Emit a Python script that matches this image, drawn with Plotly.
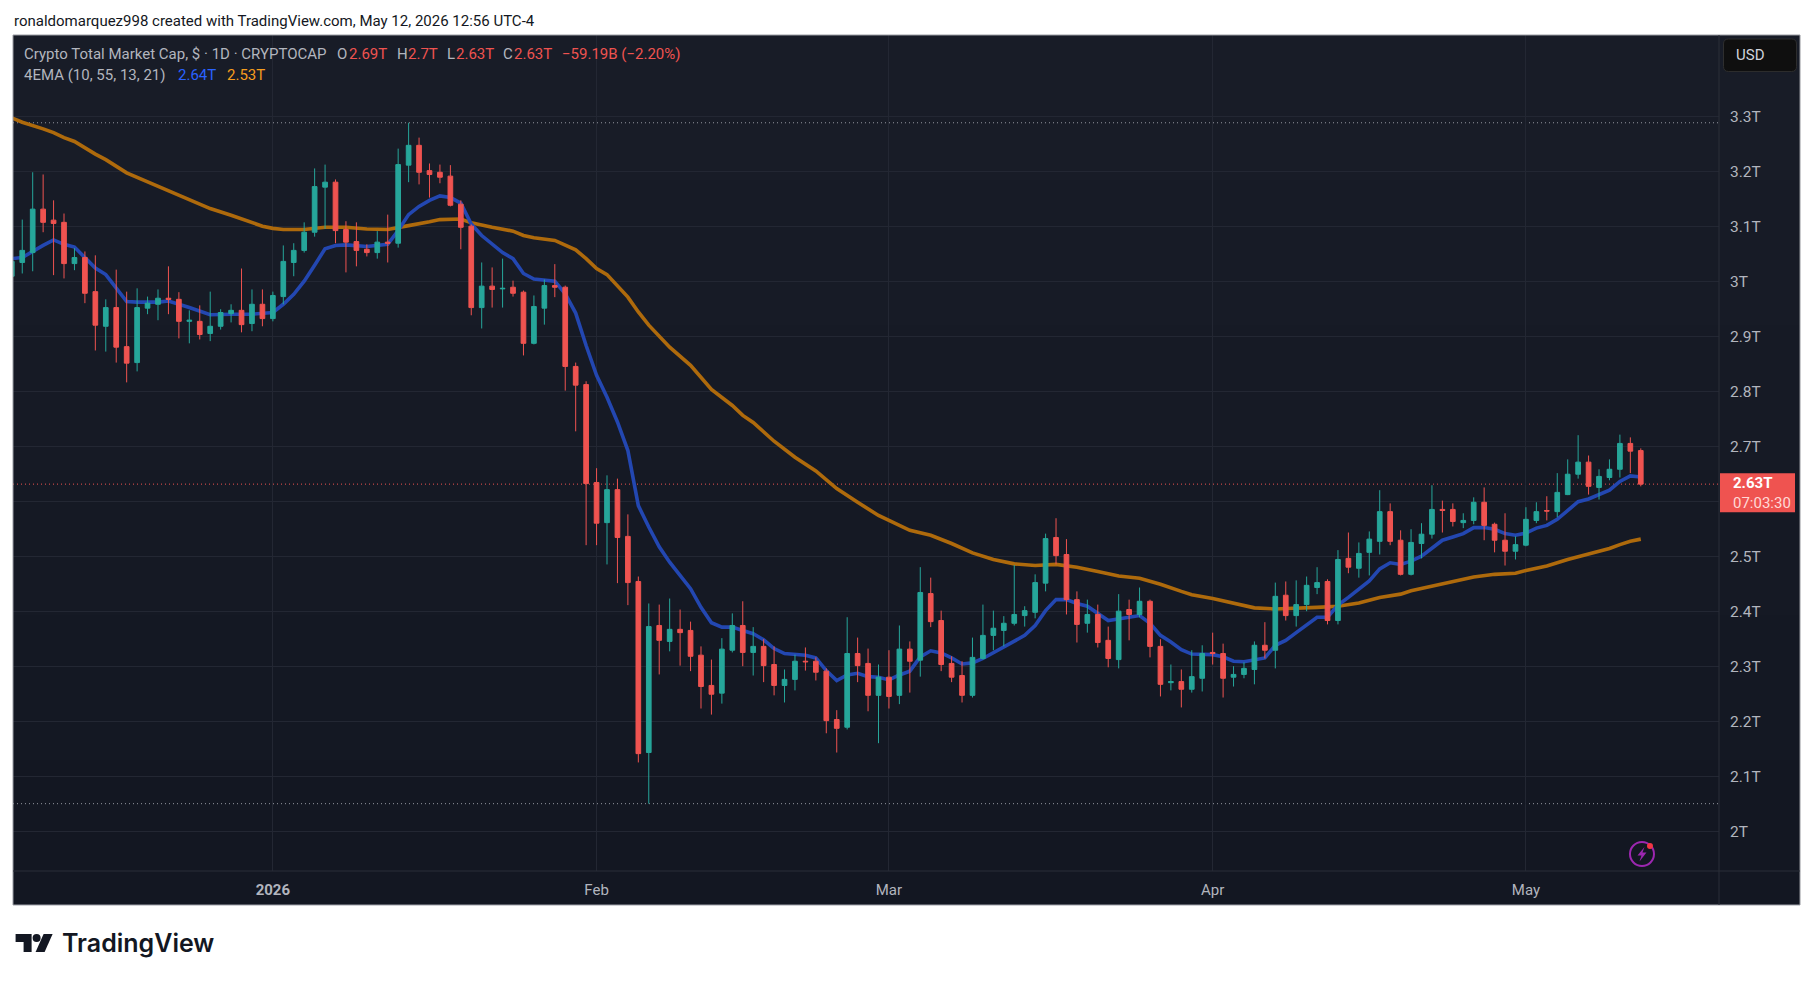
import pandas as pd
import plotly.graph_objects as go

# daily candles in trillions, one row per month: Dec 7 2025 .. May 12 2026
opens = [
    3.010, 3.035, 3.053, 3.132, 3.112, 3.108, 3.033, 3.044, 2.982, 2.919, 2.953, 2.882, 2.853, 2.952, 2.959, 2.970, 2.968, 2.928, 2.928, 2.906, 2.919, 2.942, 2.948, 2.924, 2.959,
    2.933, 2.973, 3.035, 3.057, 3.090, 3.172, 3.181, 3.095, 3.073, 3.059, 3.053, 3.072, 3.070, 3.212, 3.248, 3.202, 3.199, 3.192, 3.141, 3.101, 2.953, 2.992, 2.987, 2.990, 2.981, 2.888, 2.952, 2.993, 2.990, 2.846, 2.813,
    2.635, 2.562, 2.622, 2.537, 2.455, 2.144, 2.375, 2.346, 2.368, 2.366, 2.321, 2.266, 2.252, 2.330, 2.375, 2.326, 2.337, 2.304, 2.266, 2.277, 2.310, 2.310, 2.292, 2.204, 2.190, 2.324, 2.306, 2.248,
    2.281, 2.248, 2.332, 2.312, 2.433, 2.384, 2.306, 2.284, 2.248, 2.315, 2.357, 2.366, 2.379, 2.393, 2.399, 2.452, 2.535, 2.504, 2.422, 2.379, 2.395, 2.348, 2.313, 2.404, 2.395, 2.419, 2.337, 2.271, 2.273, 2.259, 2.279,
    2.326, 2.324, 2.281, 2.286, 2.295, 2.339, 2.330, 2.430, 2.393, 2.413, 2.444, 2.455, 2.384, 2.497, 2.479, 2.508, 2.528, 2.582, 2.530, 2.468, 2.524, 2.541, 2.586, 2.586, 2.562, 2.566, 2.599, 2.559, 2.530, 2.510,
    2.521, 2.566, 2.584, 2.582, 2.613, 2.650, 2.672, 2.626, 2.644, 2.659, 2.706, 2.693,
]
highs = [
    3.042, 3.113, 3.199, 3.195, 3.148, 3.124, 3.061, 3.055, 3.048, 2.968, 3.022, 2.982, 2.988, 2.973, 2.986, 3.028, 2.981, 2.948, 2.957, 2.982, 2.950, 2.959, 3.024, 2.986, 2.986,
    2.982, 3.066, 3.070, 3.108, 3.206, 3.213, 3.186, 3.110, 3.108, 3.068, 3.092, 3.122, 3.242, 3.289, 3.262, 3.215, 3.213, 3.212, 3.148, 3.104, 3.035, 3.026, 3.042, 3.002, 2.984, 2.975, 3.004, 3.032, 2.993, 2.853, 2.819,
    2.661, 2.648, 2.642, 2.577, 2.464, 2.415, 2.413, 2.424, 2.404, 2.382, 2.337, 2.313, 2.352, 2.397, 2.419, 2.372, 2.350, 2.337, 2.295, 2.322, 2.335, 2.317, 2.297, 2.221, 2.390, 2.353, 2.333, 2.304,
    2.330, 2.375, 2.346, 2.481, 2.462, 2.402, 2.319, 2.310, 2.353, 2.413, 2.402, 2.392, 2.485, 2.410, 2.468, 2.542, 2.570, 2.532, 2.437, 2.422, 2.413, 2.373, 2.432, 2.422, 2.444, 2.422, 2.350, 2.304, 2.295, 2.330, 2.339,
    2.362, 2.342, 2.301, 2.308, 2.346, 2.381, 2.453, 2.455, 2.457, 2.464, 2.481, 2.459, 2.512, 2.544, 2.526, 2.546, 2.621, 2.597, 2.548, 2.550, 2.561, 2.630, 2.602, 2.597, 2.579, 2.608, 2.626, 2.562, 2.579, 2.537,
    2.590, 2.599, 2.610, 2.652, 2.677, 2.721, 2.684, 2.659, 2.677, 2.722, 2.717, 2.697,
]
lows = [
    3.005, 3.015, 3.019, 3.090, 3.012, 3.006, 3.021, 2.961, 2.875, 2.873, 2.853, 2.817, 2.837, 2.941, 2.930, 2.941, 2.897, 2.888, 2.895, 2.892, 2.913, 2.926, 2.908, 2.910, 2.919,
    2.928, 2.959, 3.010, 3.053, 3.082, 3.096, 3.070, 3.017, 3.028, 3.046, 3.042, 3.035, 3.062, 3.181, 3.177, 3.153, 3.179, 3.137, 3.059, 2.939, 2.915, 2.953, 2.953, 2.973, 2.866, 2.886, 2.922, 2.972, 2.802, 2.728, 2.521,
    2.521, 2.486, 2.452, 2.412, 2.126, 2.051, 2.286, 2.328, 2.302, 2.292, 2.224, 2.213, 2.233, 2.326, 2.301, 2.284, 2.272, 2.248, 2.235, 2.257, 2.293, 2.275, 2.179, 2.144, 2.186, 2.272, 2.219, 2.161,
    2.224, 2.232, 2.253, 2.282, 2.372, 2.292, 2.272, 2.235, 2.244, 2.313, 2.330, 2.337, 2.375, 2.373, 2.388, 2.437, 2.486, 2.395, 2.344, 2.362, 2.335, 2.299, 2.297, 2.348, 2.390, 2.317, 2.246, 2.257, 2.226, 2.253, 2.255,
    2.304, 2.244, 2.264, 2.279, 2.268, 2.315, 2.297, 2.384, 2.373, 2.401, 2.432, 2.377, 2.377, 2.470, 2.462, 2.466, 2.504, 2.521, 2.466, 2.466, 2.497, 2.533, 2.544, 2.555, 2.552, 2.559, 2.530, 2.508, 2.484, 2.495,
    2.519, 2.561, 2.566, 2.572, 2.612, 2.642, 2.613, 2.604, 2.639, 2.644, 2.652, 2.628,
]
closes = [
    3.037, 3.057, 3.132, 3.108, 3.106, 3.033, 3.044, 2.979, 2.921, 2.953, 2.881, 2.852, 2.953, 2.961, 2.970, 2.968, 2.928, 2.930, 2.904, 2.919, 2.944, 2.948, 2.922, 2.959, 2.933,
    2.975, 3.037, 3.057, 3.090, 3.173, 3.181, 3.093, 3.072, 3.057, 3.053, 3.072, 3.070, 3.213, 3.248, 3.199, 3.195, 3.190, 3.139, 3.099, 2.953, 2.992, 2.986, 2.988, 2.979, 2.888, 2.955, 2.993, 2.990, 2.846, 2.812, 2.633,
    2.561, 2.622, 2.535, 2.453, 2.142, 2.373, 2.348, 2.368, 2.362, 2.319, 2.264, 2.250, 2.332, 2.375, 2.326, 2.337, 2.302, 2.266, 2.277, 2.310, 2.309, 2.290, 2.202, 2.188, 2.324, 2.302, 2.248, 2.281,
    2.246, 2.332, 2.310, 2.435, 2.382, 2.304, 2.281, 2.248, 2.317, 2.357, 2.370, 2.379, 2.395, 2.402, 2.453, 2.533, 2.502, 2.422, 2.377, 2.395, 2.344, 2.315, 2.401, 2.395, 2.419, 2.337, 2.268, 2.273, 2.259, 2.282, 2.324,
    2.324, 2.279, 2.286, 2.297, 2.339, 2.330, 2.428, 2.393, 2.413, 2.448, 2.453, 2.384, 2.495, 2.481, 2.506, 2.532, 2.582, 2.528, 2.468, 2.526, 2.541, 2.586, 2.584, 2.564, 2.566, 2.599, 2.557, 2.530, 2.510, 2.522,
    2.568, 2.582, 2.583, 2.617, 2.650, 2.672, 2.628, 2.646, 2.659, 2.706, 2.692, 2.632,
]
candle_dates = pd.date_range("2025-12-07", periods=len(opens), freq="D")

# blue EMA
fast_dates = [
    "2025-12-07", "2025-12-08", "2025-12-10", "2025-12-11", "2025-12-12", "2025-12-13", "2025-12-15", "2025-12-16", "2025-12-18", "2025-12-19", "2025-12-21", "2025-12-22", "2025-12-24", "2025-12-26", "2025-12-28", "2025-12-30",
    "2026-01-01", "2026-01-02", "2026-01-03", "2026-01-04", "2026-01-05", "2026-01-06", "2026-01-07", "2026-01-08", "2026-01-10", "2026-01-12", "2026-01-13", "2026-01-14", "2026-01-15", "2026-01-16", "2026-01-17", "2026-01-18", "2026-01-19", "2026-01-20", "2026-01-21", "2026-01-23", "2026-01-24", "2026-01-25", "2026-01-26", "2026-01-28", "2026-01-29", "2026-01-30", "2026-01-31",
    "2026-02-01", "2026-02-02", "2026-02-03", "2026-02-04", "2026-02-05", "2026-02-06", "2026-02-07", "2026-02-08", "2026-02-10", "2026-02-11", "2026-02-12", "2026-02-13", "2026-02-14", "2026-02-15", "2026-02-16", "2026-02-17", "2026-02-18", "2026-02-19", "2026-02-21", "2026-02-22", "2026-02-23", "2026-02-24", "2026-02-25", "2026-02-26", "2026-02-27", "2026-02-28",
    "2026-03-01", "2026-03-02", "2026-03-03", "2026-03-04", "2026-03-05", "2026-03-06", "2026-03-07", "2026-03-08", "2026-03-09", "2026-03-10", "2026-03-13", "2026-03-14", "2026-03-15", "2026-03-16", "2026-03-17", "2026-03-18", "2026-03-19", "2026-03-20", "2026-03-22", "2026-03-23", "2026-03-25", "2026-03-26", "2026-03-27", "2026-03-28", "2026-03-29", "2026-03-30", "2026-03-31",
    "2026-04-01", "2026-04-02", "2026-04-03", "2026-04-04", "2026-04-05", "2026-04-06", "2026-04-07", "2026-04-08", "2026-04-09", "2026-04-10", "2026-04-11", "2026-04-12", "2026-04-13", "2026-04-14", "2026-04-15", "2026-04-16", "2026-04-17", "2026-04-18", "2026-04-19", "2026-04-20", "2026-04-21", "2026-04-22", "2026-04-23", "2026-04-24", "2026-04-25", "2026-04-26", "2026-04-27", "2026-04-28", "2026-04-29", "2026-04-30",
    "2026-05-01", "2026-05-02", "2026-05-03", "2026-05-04", "2026-05-05", "2026-05-06", "2026-05-07", "2026-05-08", "2026-05-09", "2026-05-10", "2026-05-11", "2026-05-12",
]
fast_values = [
    3.042, 3.044, 3.066, 3.076, 3.068, 3.063, 3.025, 3.013, 2.964, 2.963, 2.963, 2.965, 2.953, 2.940, 2.941, 2.941,
    2.944, 2.959, 2.977, 3.001, 3.030, 3.060, 3.066, 3.067, 3.064, 3.068, 3.093, 3.122, 3.137, 3.148, 3.156, 3.153, 3.143, 3.105, 3.084, 3.053, 3.042, 3.015, 3.005, 3.001, 2.978, 2.943, 2.884,
    2.830, 2.790, 2.745, 2.693, 2.593, 2.554, 2.518, 2.490, 2.442, 2.408, 2.380, 2.372, 2.372, 2.366, 2.360, 2.349, 2.333, 2.324, 2.321, 2.316, 2.293, 2.275, 2.285, 2.288, 2.282, 2.281,
    2.276, 2.285, 2.292, 2.318, 2.329, 2.325, 2.316, 2.305, 2.307, 2.315, 2.347, 2.357, 2.375, 2.402, 2.422, 2.422, 2.415, 2.410, 2.384, 2.387, 2.393, 2.379, 2.357, 2.345, 2.331, 2.323, 2.322,
    2.322, 2.318, 2.310, 2.309, 2.313, 2.316, 2.339, 2.348, 2.362, 2.377, 2.390, 2.390, 2.412, 2.426, 2.441, 2.456, 2.478, 2.489, 2.486, 2.492, 2.501, 2.516, 2.530, 2.536, 2.542, 2.553, 2.553, 2.550, 2.542, 2.539,
    2.543, 2.552, 2.557, 2.568, 2.585, 2.600, 2.605, 2.613, 2.621, 2.637, 2.647, 2.645,
]

# orange EMA
slow_dates = [
    "2025-12-07", "2025-12-08", "2025-12-10", "2025-12-11", "2025-12-12", "2025-12-13", "2025-12-15", "2025-12-16", "2025-12-18", "2025-12-19", "2025-12-21", "2025-12-22", "2025-12-24", "2025-12-26", "2025-12-28", "2025-12-30", "2025-12-31",
    "2026-01-01", "2026-01-02", "2026-01-04", "2026-01-05", "2026-01-06", "2026-01-08", "2026-01-10", "2026-01-12", "2026-01-13", "2026-01-14", "2026-01-16", "2026-01-17", "2026-01-19", "2026-01-20", "2026-01-22", "2026-01-24", "2026-01-25", "2026-01-26", "2026-01-28", "2026-01-29", "2026-01-30", "2026-01-31",
    "2026-02-01", "2026-02-02", "2026-02-03", "2026-02-04", "2026-02-05", "2026-02-06", "2026-02-08", "2026-02-10", "2026-02-12", "2026-02-14", "2026-02-15", "2026-02-16", "2026-02-18", "2026-02-20", "2026-02-22", "2026-02-24", "2026-02-26", "2026-02-28",
    "2026-03-01", "2026-03-03", "2026-03-05", "2026-03-07", "2026-03-09", "2026-03-11", "2026-03-13", "2026-03-15", "2026-03-17", "2026-03-19", "2026-03-21", "2026-03-23", "2026-03-25", "2026-03-27", "2026-03-29", "2026-03-30",
    "2026-04-01", "2026-04-03", "2026-04-05", "2026-04-07", "2026-04-09", "2026-04-11", "2026-04-13", "2026-04-15", "2026-04-17", "2026-04-19", "2026-04-20", "2026-04-22", "2026-04-24", "2026-04-26", "2026-04-28", "2026-04-30",
    "2026-05-01", "2026-05-03", "2026-05-05", "2026-05-07", "2026-05-09", "2026-05-10", "2026-05-11", "2026-05-12",
]
slow_values = [
    3.298, 3.290, 3.278, 3.271, 3.262, 3.255, 3.232, 3.222, 3.198, 3.190, 3.174, 3.166, 3.150, 3.133, 3.121, 3.107, 3.101,
    3.097, 3.095, 3.095, 3.097, 3.099, 3.099, 3.096, 3.095, 3.098, 3.102, 3.109, 3.113, 3.114, 3.107, 3.099, 3.092, 3.084, 3.080, 3.075, 3.066, 3.058, 3.042,
    3.024, 3.013, 2.993, 2.972, 2.945, 2.921, 2.881, 2.848, 2.804, 2.775, 2.757, 2.744, 2.710, 2.681, 2.656, 2.624, 2.599, 2.575,
    2.566, 2.548, 2.539, 2.524, 2.507, 2.495, 2.487, 2.484, 2.486, 2.481, 2.473, 2.465, 2.461, 2.450, 2.437, 2.431,
    2.424, 2.415, 2.407, 2.405, 2.406, 2.408, 2.410, 2.416, 2.426, 2.432, 2.438, 2.446, 2.455, 2.463, 2.468, 2.470,
    2.475, 2.483, 2.495, 2.505, 2.515, 2.522, 2.528, 2.532,
]

# the 2.6T label sits behind the last price tag in the original, so it stays blank
price_ticks = [2.0, 2.1, 2.2, 2.3, 2.4, 2.5, 2.6, 2.7, 2.8, 2.9, 3.0, 3.1, 3.2, 3.3]
price_labels = ["2T", "2.1T", "2.2T", "2.3T", "2.4T", "2.5T", "", "2.7T", "2.8T", "2.9T", "3T", "3.1T", "3.2T", "3.3T"]
month_ticks = ["2026-01-01", "2026-02-01", "2026-03-01", "2026-04-01", "2026-05-01"]
month_labels = ["<b>2026</b>", "Feb", "Mar", "Apr", "May"]
highest_high = 3.289
lowest_low = 2.051
last_close = 2.632

UP = "#26a69a"
DOWN = "#ef5350"
GRID = "#232733"
FONT = "Roboto, sans-serif"

# plot box in page pixels
LEFT, RIGHT, TOP, BOTTOM = 13.4, 1719.0, 34.5, 871.0


def px_x(x):
    return (x - LEFT) / (RIGHT - LEFT)


def px_y(y):
    return 1 - (y - TOP) / (BOTTOM - TOP)


def box(x0, y0, x1, y1, **kw):
    return dict(type="rect", xref="paper", yref="paper", x0=px_x(x0), x1=px_x(x1),
                y0=px_y(y0), y1=px_y(y1), **kw)


def path(points, **kw):
    d = "M" + " L".join(f"{px_x(x):.5f},{px_y(y):.5f}" for x, y in points) + " Z"
    return dict(type="path", xref="paper", yref="paper", path=d, **kw)


def rounded(x0, y0, x1, y1, r, **kw):
    pt = lambda x, y: f"{px_x(x):.5f},{px_y(y):.5f}"
    d = (f"M{pt(x0 + r, y0)} L{pt(x1 - r, y0)} Q{pt(x1, y0)} {pt(x1, y0 + r)} L{pt(x1, y1 - r)} "
         f"Q{pt(x1, y1)} {pt(x1 - r, y1)} L{pt(x0 + r, y1)} Q{pt(x0, y1)} {pt(x0, y1 - r)} "
         f"L{pt(x0, y0 + r)} Q{pt(x0, y0)} {pt(x0 + r, y0)} Z")
    return dict(type="path", xref="paper", yref="paper", path=d, **kw)


def label(x, y, text, color="#b2b5be", size=15, family=FONT, weight=None):
    font = dict(family=family, size=size, color=color)
    if weight:
        font["weight"] = weight
    return dict(xref="paper", yref="paper", x=px_x(x), y=px_y(y), text=text, showarrow=False,
                xanchor="left", yanchor="middle", align="left", font=font)


fig = go.Figure()

fig.add_trace(go.Scatter(x=slow_dates, y=slow_values, mode="lines", line=dict(color="#AE6A0C", width=3.6),
                         hoverinfo="skip", showlegend=False))
fig.add_trace(go.Scatter(x=fast_dates, y=fast_values, mode="lines", line=dict(color="#2347B1", width=3.6),
                         hoverinfo="skip", showlegend=False))

# candles live on an overlaid pair of axes so they sit on top of the lines
fig.add_trace(go.Candlestick(
    x=candle_dates, open=opens, high=highs, low=lows, close=closes,
    xaxis="x2", yaxis="y2", whiskerwidth=0,
    increasing=dict(line=dict(color=UP, width=1), fillcolor=UP),
    decreasing=dict(line=dict(color=DOWN, width=1), fillcolor=DOWN),
    hoverinfo="skip", showlegend=False,
))

shapes = []
# dark panel, a faint top to bottom gradient
panel_shades = ["#181c27", "#171b26", "#161a25", "#151924", "#141823", "#131722"]
band = (905 - 34.5) / len(panel_shades)
for i, shade in enumerate(panel_shades):
    shapes.append(box(13.4, 34.5 + i * band, 1800, 34.5 + (i + 1) * band, fillcolor=shade, line_width=0, layer="below"))
shapes.append(box(13.4, 34.5, 1800, 905, line=dict(color="#9a9ca3", width=1), layer="above"))
shapes.append(dict(type="line", xref="paper", yref="paper", x0=px_x(1719), x1=px_x(1719), y0=px_y(34.5), y1=px_y(905),
                   line=dict(color="#2a2e39", width=1), layer="above"))
shapes.append(dict(type="line", xref="paper", yref="paper", x0=px_x(13.4), x1=px_x(1800), y0=0, y1=0,
                   line=dict(color="#2a2e39", width=1), layer="above"))

for level, color in [(highest_high, "#9598a1"), (lowest_low, "#9598a1"), (last_close, "#ef5350")]:
    shapes.append(dict(type="line", xref="paper", yref="y", x0=0, x1=1, y0=level, y1=level,
                       line=dict(color=color, width=1, dash="1px,3px"), layer="below"))

# USD button and last price tag
shapes.append(rounded(1723.5, 38.5, 1796.5, 71, 5, fillcolor="#0f0f0f", line=dict(color="#2e2e2e", width=1), layer="above"))
shapes.append(box(1720, 473, 1795, 512, fillcolor="#ef5350", line_width=0, layer="above"))

# lightning badge
shapes.append(dict(type="circle", xref="paper", yref="paper", x0=px_x(1630), x1=px_x(1654), y0=px_y(842), y1=px_y(866),
                   line=dict(color="#9c27b0", width=2), layer="above"))
shapes.append(path([(1644.5, 847), (1637.5, 855.5), (1641.5, 855.5), (1639.5, 861.5), (1646.5, 852.5), (1642.5, 852.5)],
                   fillcolor="#9c27b0", line_width=0, layer="above"))
shapes.append(dict(type="circle", xref="paper", yref="paper", x0=px_x(1647), x1=px_x(1653), y0=px_y(843), y1=px_y(849),
                   fillcolor="#f23645", line_width=0, layer="above"))

# TradingView mark under the chart
INK = "#131722"
shapes.append(path([(16, 934), (32, 934), (32, 952), (24, 952), (24, 942), (16, 942)], fillcolor=INK, line_width=0, layer="above"))
shapes.append(dict(type="circle", xref="paper", yref="paper", x0=px_x(33), x1=px_x(41), y0=px_y(934), y1=px_y(942),
                   fillcolor=INK, line_width=0, layer="above"))
shapes.append(path([(44, 934), (53, 934), (45, 952), (36, 952)], fillcolor=INK, line_width=0, layer="above"))

annotations = [
    label(12, 20, "ronaldomarquez998 created with TradingView.com, May 12, 2026 12:56 UTC-4", color="#131722", size=15),
    label(22, 54, "Crypto Total Market Cap, $ · 1D · CRYPTOCAP"),
    label(335, 54, "O"), label(347, 54, "2.69T", DOWN),
    label(395, 54, "H"), label(406, 54, "2.7T", DOWN),
    label(445, 54, "L"), label(454, 54, "2.63T", DOWN),
    label(501, 54, "C"), label(512, 54, "2.63T", DOWN),
    label(560.5, 54, "−59.19B (−2.20%)", DOWN),
    label(22, 75, "4EMA (10, 55, 13, 21)"),
    label(176, 75, "2.64T", "#2962ff"), label(225, 75, "2.53T", "#f59d1e"),
    label(1734, 54.5, "USD", "#d1d4dc", size=15),
    label(1730.5, 492.5, "<b>2.63T</b><br><span style='color:#ffd9d7'>07:03:30</span>", "#ffffff", size=15),
    label(60, 943, "TradingView", INK, size=25, family="Inter, sans-serif", weight=600),
]

fig.update_layout(
    width=1814, height=981, autosize=False,
    margin=dict(l=LEFT, r=1814 - RIGHT, t=TOP, b=981 - BOTTOM, pad=0),
    paper_bgcolor="#ffffff", plot_bgcolor="rgba(0,0,0,0)",
    showlegend=False, hovermode=False, boxgap=0.36,
    shapes=shapes, annotations=annotations,
    xaxis=dict(type="date", range=["2025-12-07 02:45", "2026-05-19 11:46"], tickmode="array",
               tickvals=month_ticks, ticktext=month_labels, showgrid=True, gridcolor=GRID, gridwidth=1,
               zeroline=False, showline=False, ticks="", ticklabelstandoff=8, rangeslider=dict(visible=False),
               tickfont=dict(family=FONT, size=15, color="#b2b5be")),
    yaxis=dict(range=[1.9286, 3.4486], side="right", tickmode="array", tickvals=price_ticks, ticktext=price_labels,
               showgrid=True, gridcolor=GRID, gridwidth=1, zeroline=False, showline=False, ticks="",
               ticklabelstandoff=10, tickfont=dict(family=FONT, size=15.5, color="#b2b5be")),
    xaxis2=dict(type="date", overlaying="x", matches="x", visible=False, rangeslider=dict(visible=False)),
    yaxis2=dict(overlaying="y", matches="y", visible=False),
)

fig.write_html("out.html", config=dict(displayModeBar=False),
               post_script="document.body.style.margin='0';document.body.style.overflow='hidden';")
